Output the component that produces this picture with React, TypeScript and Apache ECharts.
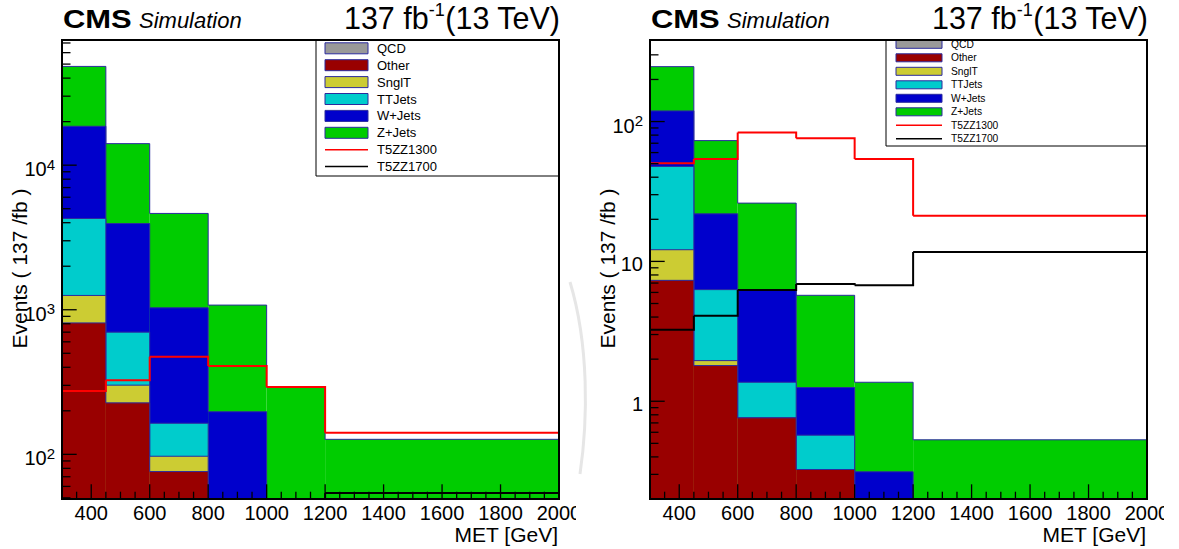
import React, { useEffect, useRef } from 'react';
import * as echarts from 'echarts';

const FONT = '"Liberation Sans", Arial, Helvetica, sans-serif';
const OUTLINE = '#2b2b9e';

// ---------- data ----------
const binEdges = [300, 450, 600, 800, 1000, 1200, 2000];
const processNames = ['QCD', 'Other', 'SnglT', 'TTJets', 'W+Jets', 'Z+Jets'];
const processColors = ['#999999', '#990000', '#cccc33', '#00cccc', '#0000cc', '#00cc00'];
const signalNames = ['T5ZZ1300', 'T5ZZ1700'];
const signalColors = ['#ff0000', '#000000'];

// left panel (events per bin, per process)
const leftQCD = [0, 0, 0, 0, 0, 0];
const leftOther = [811, 227, 76, 20, 8, 3];
const leftSnglT = [445, 74, 21, 5, 2, 1];
const leftTTJets = [3020, 399, 67, 15, 6, 2];
const leftWJets = [14304, 3245, 867, 157, 25, 12];
const leftZJets = [29620, 10145, 3606, 880, 249, 109];
const leftT5ZZ1300 = [274, 326, 473, 408, 292, 141];
const leftT5ZZ1700 = [14, 20, 33, 33, 29, 54];

// right panel
const rightQCD = [0, 0, 0, 0, 0, 0];
const rightOther = [7.32, 1.8, 0.761, 0.325, 0.08, 0.06];
const rightSnglT = [4.8, 0.153, 0, 0, 0, 0];
const rightTTJets = [35.6, 4.33, 0.606, 0.247, 0.05, 0];
const rightWJets = [71.5, 15.6, 4.84, 0.681, 0.183, 0.05];
const rightZJets = [127.8, 51.2, 19.9, 4.47, 1.054, 0.42];
const rightT5ZZ1300 = [50.4, 53.9, 83.4, 76.1, 53.9, 21.2];
const rightT5ZZ1700 = [3.25, 4.09, 6.25, 6.9, 6.74, 11.67];

// axes
const xRange = [300, 2000];
const xMinorStep = 50;
const xTickValues = [400, 600, 800, 1000, 1200, 1400, 1600, 1800, 2000];
const xTickLabels = ['400', '600', '800', '1000', '1200', '1400', '1600', '1800', '2000'];
const leftYRange = [49.1, 73400];
const leftYTickValues = [100, 1000, 10000];
const leftYTickLabels = ['10^2', '10^3', '10^4'];
const rightYRange = [0.2, 383];
const rightYTickValues = [1, 10, 100];
const rightYTickLabels = ['1', '10', '10^2'];

const xTitle = 'MET [GeV]';
const yTitle = 'Events ( 137 /fb )';
const lumiMain = '137 fb';
const lumiSup = '-1';
const lumiTail = '(13 TeV)';

// ---------- layout ----------
type Panel = {
  left: number; top: number; width: number; height: number;
  stack: number[][]; signals: number[][];
  yRange: number[]; yTickValues: number[]; yTickLabels: string[];
  legend: { x: number; w: number; h: number; font: number; swX: number; swW: number; swH: number; textX: number; y0: number; dy: number };
  yTitleX: number;
};

const PANELS: Panel[] = [
  {
    left: 62, top: 40, width: 497, height: 459,
    stack: [leftQCD, leftOther, leftSnglT, leftTTJets, leftWJets, leftZJets],
    signals: [leftT5ZZ1300, leftT5ZZ1700],
    yRange: leftYRange, yTickValues: leftYTickValues, yTickLabels: leftYTickLabels,
    legend: { x: 316, w: 243, h: 136, font: 13, swX: 325, swW: 43, swH: 11, textX: 377, y0: 48.3, dy: 16.9 },
    yTitleX: 19.4,
  },
  {
    left: 650, top: 40, width: 497, height: 459,
    stack: [rightQCD, rightOther, rightSnglT, rightTTJets, rightWJets, rightZJets],
    signals: [rightT5ZZ1300, rightT5ZZ1700],
    yRange: rightYRange, yTickValues: rightYTickValues, yTickLabels: rightYTickLabels,
    legend: { x: 886, w: 261, h: 106, font: 10.25, swX: 896, swW: 46, swH: 8, textX: 951, y0: 44.3, dy: 13.5 },
    yTitleX: 607.5,
  },
];

function measure(text: string, size: number): number {
  try {
    const ctx = document.createElement('canvas').getContext('2d');
    if (ctx) {
      ctx.font = `${size}px ${FONT}`;
      return ctx.measureText(text).width;
    }
  } catch (e) { /* ignore */ }
  return text.length * size * 0.55;
}

function richLabel(label: string) {
  const parts = label.split('^');
  if (parts.length === 2) {
    return {
      text: `{b|${parts[0]}}{s|${parts[1]}}`,
      rich: {
        b: { fontSize: 20, fontFamily: FONT, fill: '#000', color: '#000' },
        s: { fontSize: 15, fontFamily: FONT, fill: '#000', color: '#000', padding: [0, 0, 10, 0] },
      },
    };
  }
  return { text: label };
}

function buildSeries(): any[] {
  const series: any[] = [];
  PANELS.forEach((panel, p) => {
    const yMin = panel.yRange[0];
    const nb = binEdges.length - 1;
    // cumulative sums
    const cum: number[][] = [];
    panel.stack.forEach((layer, k) => {
      cum.push(layer.map((v, i) => v + (k > 0 ? cum[k - 1][i] : 0)));
    });
    for (let k = panel.stack.length - 1; k >= 0; k--) {
      const tops = cum[k];
      const data = tops.map((t, i) => [
        binEdges[i], binEdges[i + 1],
        Math.max(t, yMin),
        i < nb - 1 ? Math.max(tops[i + 1], yMin) : yMin,
      ]);
      const color = processColors[k];
      series.push({
        type: 'custom', name: processNames[k], xAxisIndex: p, yAxisIndex: p, silent: true, z: 2,
        encode: { x: [0, 1], y: [2, 3] }, data,
        renderItem: (params: any, api: any) => {
          const x0 = api.value(0), x1 = api.value(1), t = api.value(2);
          if (!(t > yMin)) return { type: 'group', children: [] };
          const a = api.coord([x0, t]);
          const b = api.coord([x1, yMin]);
          return { type: 'rect', shape: { x: a[0], y: a[1], width: b[0] - a[0], height: b[1] - a[1] }, style: { fill: color } };
        },
      });
      series.push({
        type: 'custom', name: processNames[k] + ' outline', xAxisIndex: p, yAxisIndex: p, silent: true, z: 2,
        encode: { x: [0, 1], y: [2, 3] }, data,
        renderItem: (params: any, api: any) => {
          const x0 = api.value(0), x1 = api.value(1), t = api.value(2), n = api.value(3);
          const a = api.coord([x0, t]);
          const b = api.coord([x1, n]);
          const base = api.coord([x0, yMin])[1];
          const pts: number[][] = [];
          if (params.dataIndex === 0) pts.push([a[0], base]);
          pts.push([a[0], a[1]], [b[0], a[1]], [b[0], b[1]]);
          return { type: 'polyline', shape: { points: pts }, style: { stroke: OUTLINE, lineWidth: 1, fill: null } };
        },
      });
    }
    // signal lines
    panel.signals.forEach((vals, s) => {
      const data = vals.map((v, i) => [
        binEdges[i], binEdges[i + 1],
        Math.max(v, yMin),
        i < nb - 1 ? Math.max(vals[i + 1], yMin) : Math.max(v, yMin),
      ]);
      const color = signalColors[s];
      series.push({
        type: 'custom', name: signalNames[s], xAxisIndex: p, yAxisIndex: p, silent: true, z: 3,
        encode: { x: [0, 1], y: [2, 3] }, data,
        renderItem: (params: any, api: any) => {
          const x0 = api.value(0), x1 = api.value(1), v = api.value(2), n = api.value(3);
          const a = api.coord([x0, v]);
          const b = api.coord([x1, n]);
          const pts: number[][] = [];
          if (v > yMin) pts.push([a[0], a[1]], [b[0], a[1]]);
          else pts.push([b[0], a[1]]);
          if (params.dataIndex < nb - 1) pts.push([b[0], b[1]]);
          if (pts.length < 2) return { type: 'group', children: [] };
          return { type: 'polyline', shape: { points: pts }, style: { stroke: color, lineWidth: 2, fill: null } };
        },
      });
    });
    // x ticks
    const xTicks: number[][] = [];
    for (let v = xRange[0] + xMinorStep; v <= xRange[1]; v += xMinorStep) {
      const idx = xTickValues.indexOf(v);
      xTicks.push([v, yMin, idx]);
    }
    series.push({
      type: 'custom', name: 'xticks', xAxisIndex: p, yAxisIndex: p, silent: true, z: 4,
      encode: { x: 0, y: 1 }, data: xTicks,
      renderItem: (params: any, api: any) => {
        const v = api.value(0), idx = api.value(2);
        const pt = api.coord([v, yMin]);
        const major = idx >= 0;
        const children: any[] = [
          { type: 'line', shape: { x1: pt[0], y1: pt[1], x2: pt[0], y2: pt[1] - (major ? 14.7 : 7.3) }, style: { stroke: '#000', lineWidth: 1.3 } },
        ];
        if (major) {
          children.push({
            type: 'text', x: pt[0], y: pt[1] + 14,
            style: { text: xTickLabels[idx], fontSize: 20, lineHeight: 20, fontFamily: FONT, fill: '#000', align: 'center', verticalAlign: 'middle', textAlign: 'center', textVerticalAlign: 'middle' },
          });
        }
        return { type: 'group', children };
      },
    });
    // y ticks
    const yTicks: number[][] = [];
    const [lo, hi] = panel.yRange;
    for (let e = Math.floor(Math.log10(lo)); e <= Math.ceil(Math.log10(hi)); e++) {
      for (let m = 1; m <= 9; m++) {
        const v = m * Math.pow(10, e);
        if (v >= lo * 0.999 && v <= hi) {
          yTicks.push([xRange[0], v, m === 1 ? panel.yTickValues.findIndex((t) => Math.abs(t - v) / t < 1e-6) : -1, m === 1 ? 1 : 0]);
        }
      }
    }
    const labels = panel.yTickLabels;
    series.push({
      type: 'custom', name: 'yticks', xAxisIndex: p, yAxisIndex: p, silent: true, z: 4,
      encode: { x: 0, y: 1 }, data: yTicks,
      renderItem: (params: any, api: any) => {
        const v = api.value(1), idx = api.value(2), major = api.value(3) === 1;
        const pt = api.coord([xRange[0], v]);
        const children: any[] = [
          { type: 'line', shape: { x1: pt[0], y1: pt[1], x2: pt[0] + (major ? 14.7 : 8.5), y2: pt[1] }, style: { stroke: '#000', lineWidth: 1.3 } },
        ];
        if (idx >= 0) {
          const lab = richLabel(labels[idx]);
          const hasSup = !!(lab as any).rich;
          children.push({
            type: 'text', x: pt[0] - 7, y: pt[1] + (hasSup ? 4 : 3),
            style: { ...lab, fontSize: 20, fontFamily: FONT, fill: '#000', align: 'right', verticalAlign: 'middle', textAlign: 'right', textVerticalAlign: 'middle' },
          });
        }
        return { type: 'group', children };
      },
    });
  });
  return series;
}

function txt(x: number, y: number, text: string, extra: any, el: any = {}) {
  return {
    type: 'text', x, y, silent: true, z: 60, ...el,
    style: { text, fontFamily: FONT, fill: '#000', ...extra },
  };
}

function buildGraphic(): any[] {
  const els: any[] = [];
  // faint watermark arc between panels
  els.push({
    type: 'bezierCurve', silent: true, z: 1,
    shape: { x1: 570, y1: 282, cpx1: 589, cpy1: 345, cpx2: 588, cpy2: 420, x2: 580, y2: 474 },
    style: { stroke: '#e6e6e6', lineWidth: 3, fill: null },
  });
  const mainSize = 30.5;
  const supSize = 18;
  const tailW = measure(lumiTail, mainSize);
  const supW = measure(lumiSup, supSize);
  PANELS.forEach((panel) => {
    const dx = panel.left - 62;
    const L = panel.legend;
    // legend box
    els.push({
      type: 'rect', silent: true, z: 50,
      shape: { x: L.x, y: panel.top, width: L.w, height: L.h },
      style: { fill: '#fff', stroke: '#000', lineWidth: 1 },
    });
    const entries = [
      ...processNames.map((n, k) => ({ name: n, color: processColors[k], kind: 'fill' })),
      ...signalNames.map((n, s) => ({ name: n, color: signalColors[s], kind: 'line' })),
    ];
    entries.forEach((en, i) => {
      const yc = L.y0 + i * L.dy;
      if (en.kind === 'fill') {
        els.push({
          type: 'rect', silent: true, z: 51,
          shape: { x: L.swX, y: yc - L.swH / 2, width: L.swW, height: L.swH },
          style: { fill: en.color, stroke: OUTLINE, lineWidth: 1 },
        });
      } else {
        els.push({
          type: 'line', silent: true, z: 51,
          shape: { x1: L.swX, y1: yc, x2: L.swX + L.swW, y2: yc },
          style: { stroke: en.color, lineWidth: 1.5 },
        });
      }
      els.push(txt(L.textX, yc, en.name, { fontSize: L.font, align: 'left', verticalAlign: 'middle', textAlign: 'left', textVerticalAlign: 'middle' }));
    });
    // frame
    els.push({
      type: 'rect', silent: true, z: 100,
      shape: { x: panel.left, y: panel.top, width: panel.width, height: panel.height },
      style: { fill: null, stroke: '#000', lineWidth: 2 },
    });
    // header
    els.push(txt(63 + dx, 19.2, 'CMS', { fontSize: 26, fontWeight: 'bold', align: 'left', verticalAlign: 'middle', textAlign: 'left', textVerticalAlign: 'middle' }, { scaleX: 1.19 }));
    els.push(txt(139 + dx, 20.6, 'Simulation', { fontSize: 22, fontStyle: 'italic', align: 'left', verticalAlign: 'middle', textAlign: 'left', textVerticalAlign: 'middle' }));
    const rightEdge = 560 + dx;
    els.push(txt(rightEdge, 18, lumiTail, { fontSize: mainSize, align: 'right', verticalAlign: 'middle', textAlign: 'right', textVerticalAlign: 'middle' }));
    els.push(txt(rightEdge - tailW, 0.5, lumiSup, { fontSize: supSize, lineHeight: supSize, align: 'right', verticalAlign: 'top', textAlign: 'right', textVerticalAlign: 'top' }));
    els.push(txt(rightEdge - tailW - supW, 18, lumiMain, { fontSize: mainSize, align: 'right', verticalAlign: 'middle', textAlign: 'right', textVerticalAlign: 'middle' }));
    // axis titles
    els.push(txt(panel.left + panel.width - 1, 534.5, xTitle, { fontSize: 21, lineHeight: 21, align: 'right', verticalAlign: 'middle', textAlign: 'right', textVerticalAlign: 'middle' }));
    els.push(txt(panel.yTitleX, 268.5, yTitle, { fontSize: 21, align: 'center', verticalAlign: 'middle', textAlign: 'center', textVerticalAlign: 'middle' }, { rotation: Math.PI / 2 }));
    // canvas clipping of the last x label
    els.push({
      type: 'rect', silent: true, z: 200,
      shape: { x: panel.left + panel.width + 17, y: 500, width: 14, height: 22 },
      style: { fill: '#fff' },
    });
  });
  return els;
}

export default function App() {
  const ref = useRef<HTMLDivElement>(null);
  useEffect(() => {
    if (!ref.current) return;
    const chart = echarts.init(ref.current, undefined, { renderer: 'svg' });
    chart.setOption({
      animation: false,
      backgroundColor: '#ffffff',
      grid: PANELS.map((p) => ({ left: p.left, top: p.top, width: p.width, height: p.height, containLabel: false, show: false })),
      xAxis: PANELS.map((p, i) => ({ type: 'value', gridIndex: i, min: xRange[0], max: xRange[1], show: false })),
      yAxis: PANELS.map((p, i) => ({ type: 'log', logBase: 10, gridIndex: i, min: p.yRange[0], max: p.yRange[1], show: false })),
      series: buildSeries(),
      graphic: { elements: buildGraphic() },
    });
    return () => chart.dispose();
  }, []);
  return <div ref={ref} style={{ position: 'fixed', left: 0, top: 0, width: 1179, height: 549, background: '#fff' }} />;
}
